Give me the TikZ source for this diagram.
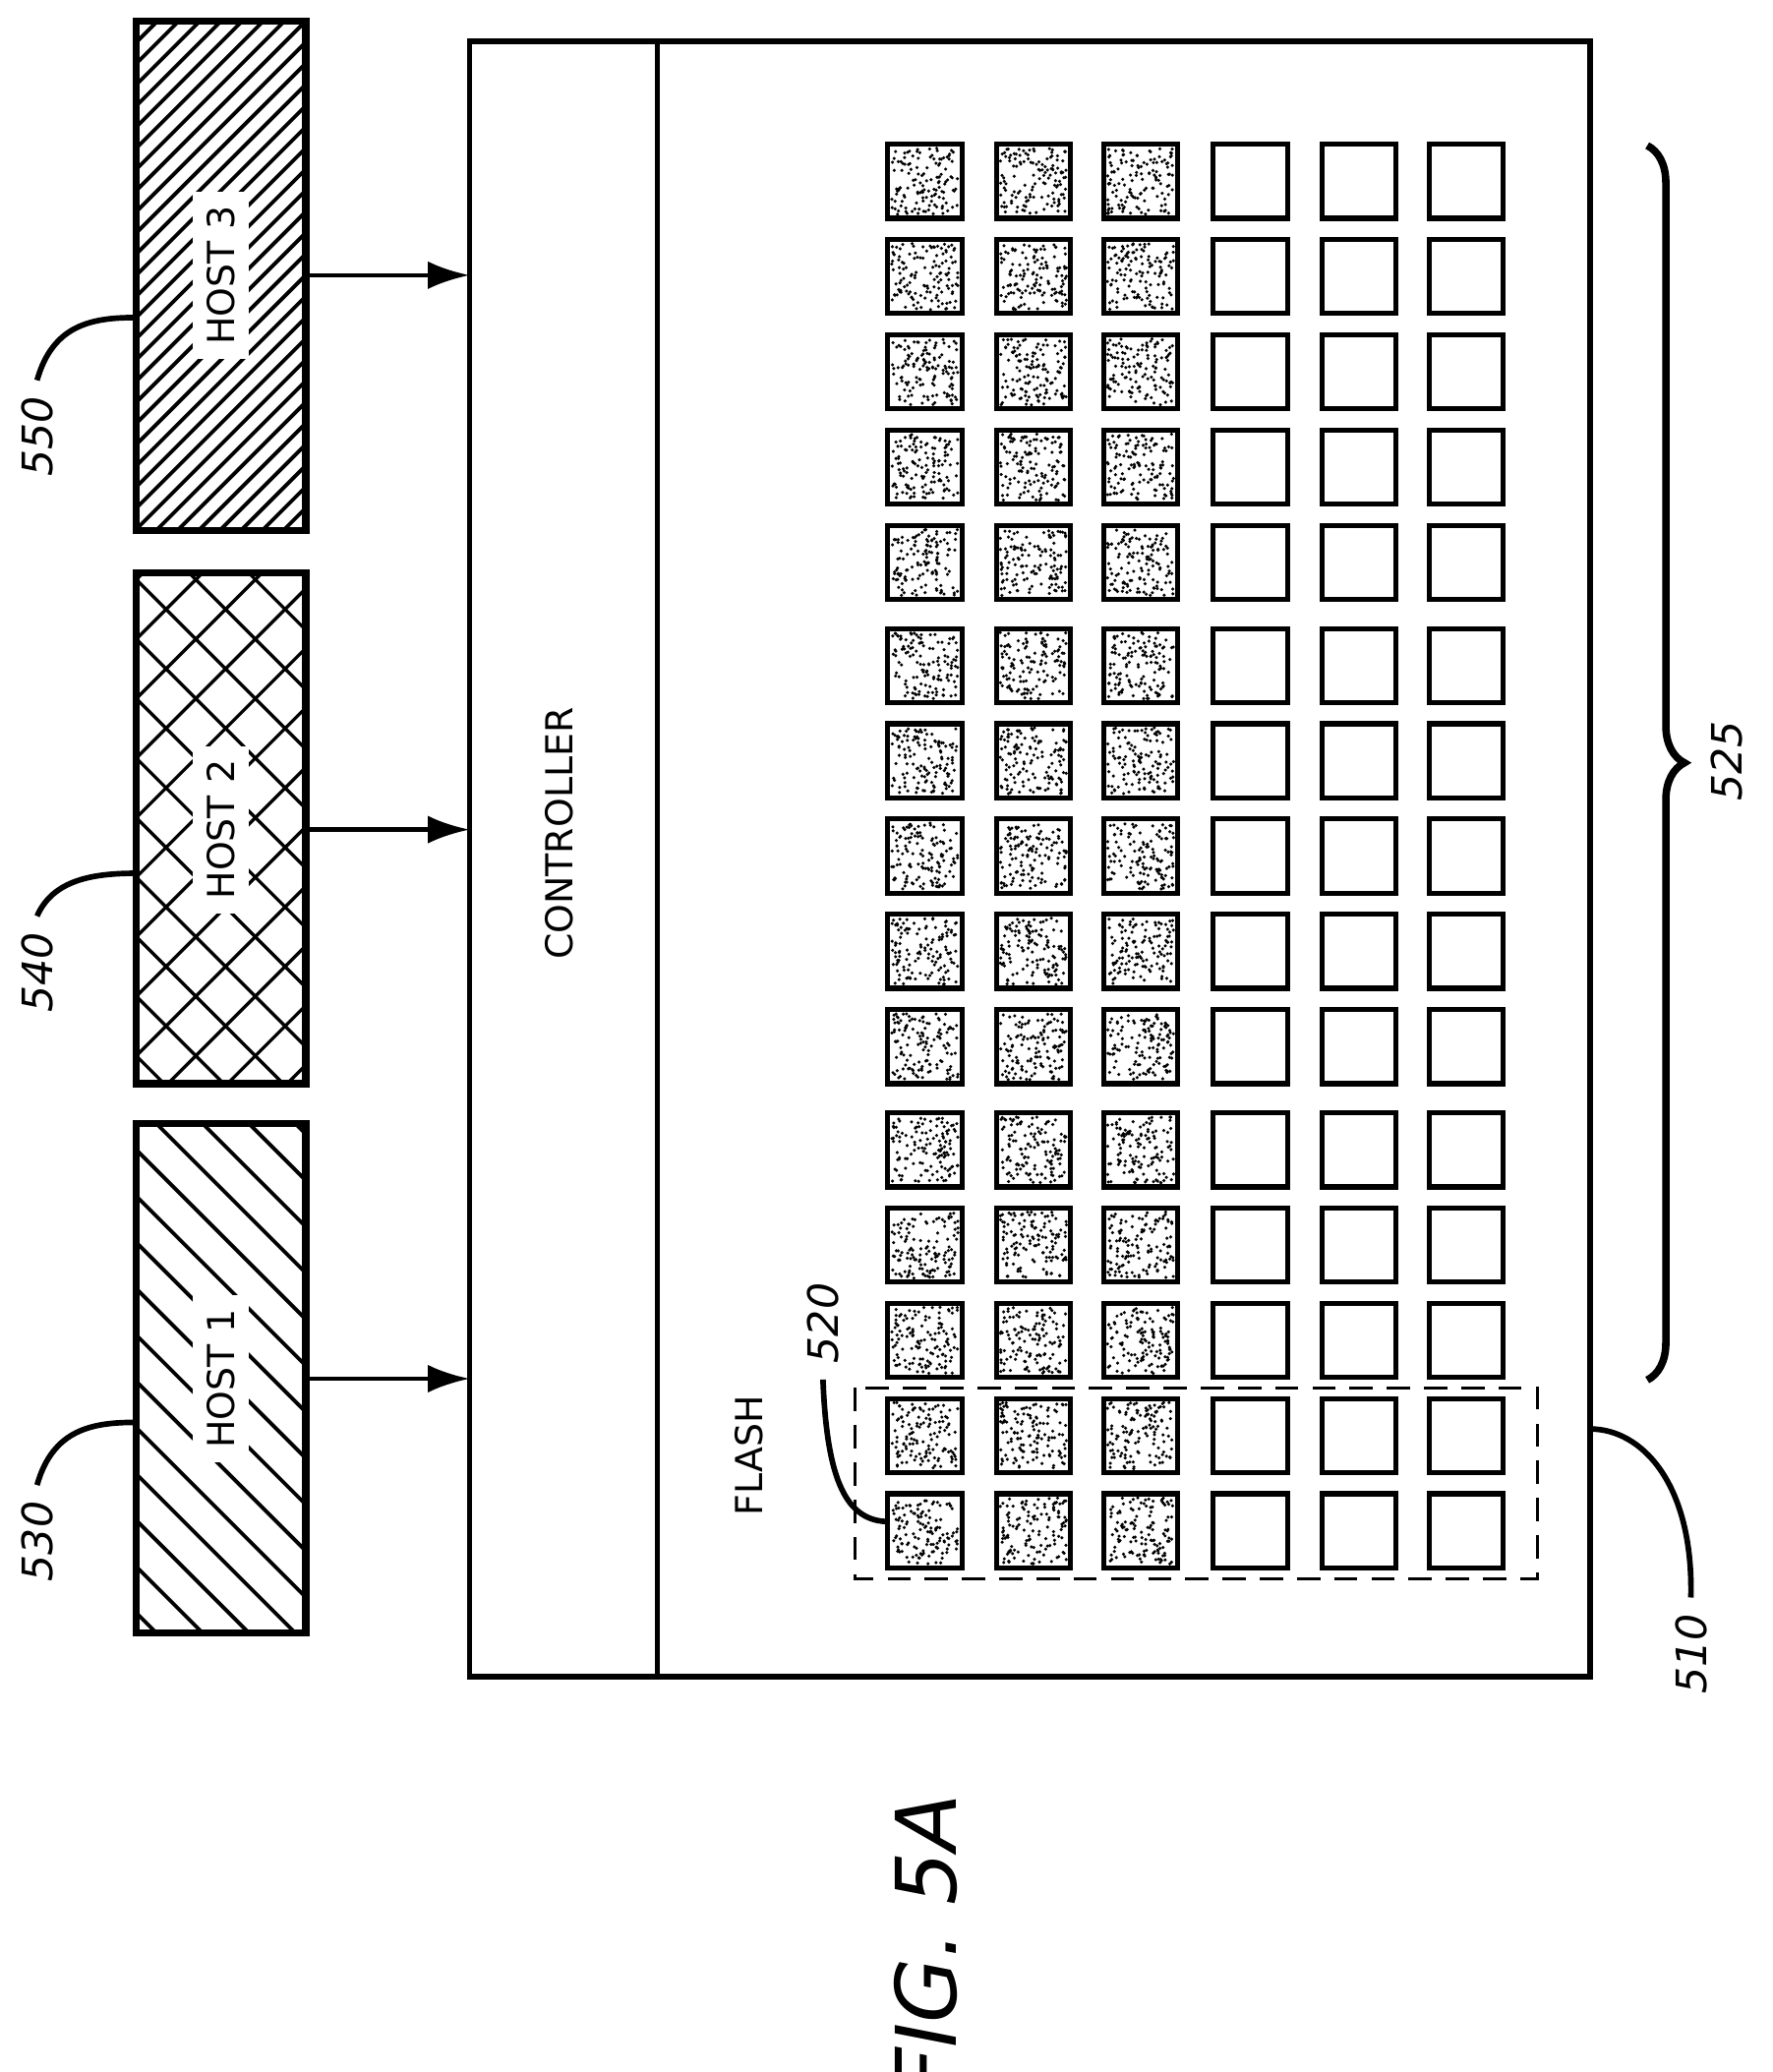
\documentclass[tikz,border=0pt]{standalone}
\usepackage{fontspec}
\setsansfont{DejaVu Sans}
\usetikzlibrary{arrows.meta,decorations.pathreplacing}
\begin{document}
\begin{tikzpicture}[x=0.01cm, y=-0.01cm,
    host/.style={draw, line width=1.6pt},
    lbl/.style={font=\sffamily\fontsize{8}{9}\selectfont, rotate=90, fill=white, inner sep=3pt},
    ref/.style={font=\sffamily\itshape\fontsize{9}{10}\selectfont, rotate=90},
    lead/.style={line width=1.2pt},
    arrow/.style={-{Latex[length=9pt,width=6pt]}, line width=1pt},
    cell/.style={draw, line width=1.1pt}
]
    \useasboundingbox (0,0) rectangle (1340,1566);

    % Hosts
    \begin{scope}
        \clip (103,849) rectangle (231,1234);
        \foreach \i in {-400,-365,...,420}
            \draw[line width=0.8pt] (103,849+\i) -- ++(400,400);
    \end{scope}
    \begin{scope}
        \clip (103,433) rectangle (231,819);
        \foreach \i in {-400,-355,...,560}
            {\draw[line width=0.7pt] (103,433+\i) -- ++(400,400);
             \draw[line width=0.7pt] (103,433+\i) -- ++(400,-400);}
    \end{scope}
    \begin{scope}
        \clip (103,16) rectangle (231,401);
        \foreach \i in {0,16,...,560}
            \draw[line width=0.8pt] (103,16+\i) -- ++(200,-200);
    \end{scope}
    \draw[host] (103,849) rectangle (231,1234);
    \draw[host] (103,433) rectangle (231,819);
    \draw[host] (103,16) rectangle (231,401);
    \node[lbl] (host1) at (167,1042) {HOST 1};
    \node[lbl] (host2) at (167,627) {HOST 2};
    \node[lbl] (host3) at (167,208) {HOST 3};

    % Storage device
    \draw[line width=1.2pt] (355,31) rectangle (1202,1267);
    \draw[line width=1pt] (497,31) -- (497,1267);
    \node[lbl, fill=none] (ctrl) at (423,630) {CONTROLLER};
    \node[lbl, fill=none] (flash) at (566,1100) {FLASH};
    \coordinate (in1) at (355,1042);
    \coordinate (in2) at (355,627);
    \coordinate (in3) at (355,208);
    \coordinate (out1) at (231,1042);
    \coordinate (out2) at (231,627);
    \coordinate (out3) at (231,208);
    \draw[arrow] (out1) -- (in1);
    \draw[arrow] (out2) -- (in2);
    \draw[arrow] (out3) -- (in3);

    % Flash cells
    \pgfmathsetseed{5}
    \foreach \y in {137,209,281,353,425,503,575,647,719,791,869,941,1013,1085,1157} {
        \foreach \x in {699,781,862} {
            \foreach \k in {1,...,130}
                \fill (\x-25+50*rnd,\y-25+50*rnd) circle (1.3);
            \draw[cell] (\x-28,\y-28) rectangle ++(56,56);
        }
        \foreach \x in {945,1027,1108}
            \draw[cell] (\x-28,\y-28) rectangle ++(56,56);
    }
    \draw[line width=0.7pt, dash pattern=on 5pt off 3pt] (646,1049) rectangle (1162,1193);

    % Brace
    \draw[decorate, decoration={brace, amplitude=8pt}, line width=1.6pt] (1245,110) -- (1245,1043);

    % Reference numerals
    \node[ref] (n530) at (28,1165) {530};
    \node[ref] (n540) at (28,735) {540};
    \node[ref] (n550) at (28,330) {550};
    \node[ref] (n510) at (1278,1250) {510};
    \node[ref] (n520) at (622,1000) {520};
    \node[ref] (n525) at (1305,575) {525};
    \draw[lead] (n530.east) .. controls (40,1080) and (70,1075) .. (103,1075);
    \draw[lead] (n540.east) .. controls (40,665) and (70,660) .. (103,660);
    \draw[lead] (n550.east) .. controls (40,245) and (70,240) .. (103,240);
    \draw[lead] (n510.east) .. controls (1280,1120) and (1240,1080) .. (1202,1080);
    \draw[lead] (n520.west) .. controls (625,1120) and (640,1150) .. (672,1150);

    \node[font=\sffamily\itshape\fontsize{18}{20}\selectfont, rotate=90] (fig) at (700,1470) {FIG. 5A};
\end{tikzpicture}
\end{document}
